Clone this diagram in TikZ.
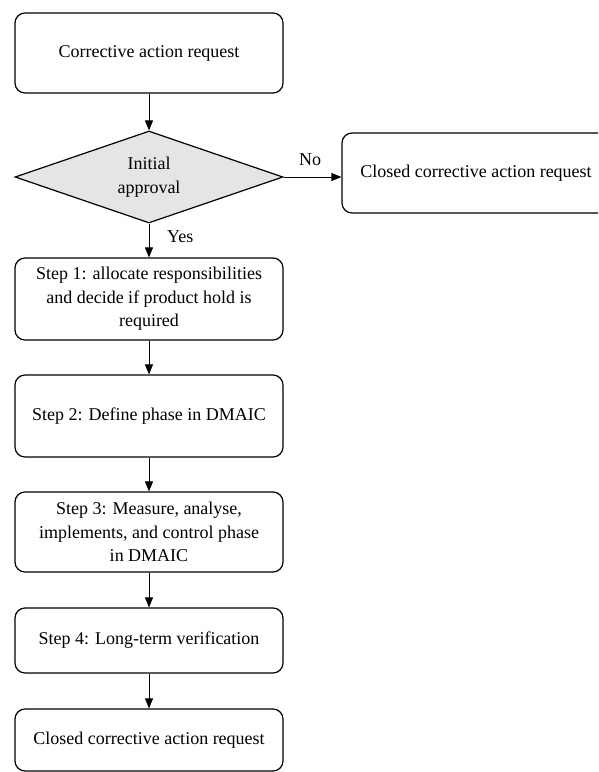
\documentclass[tikz,border=0pt]{standalone}
\usepackage{fontspec}
\setmainfont{Liberation Serif}
\usetikzlibrary{shapes.geometric,arrows.meta}
\begin{document}
\begin{tikzpicture}[x=1pt,y=-1pt,
  every node/.style={font=\fontsize{18}{23.5}\selectfont},
  proc/.style={draw,line width=1.2pt,rounded corners=10pt,minimum width=268pt,align=center,inner sep=0pt},
  decision/.style={draw,line width=1.2pt,diamond,fill=black!10,aspect=2.91,minimum width=268pt,minimum height=92pt,inner sep=0pt,align=center},
  flow/.style={draw,line width=0.9pt,-{Triangle[length=10pt,width=8pt]}},
  lbl/.style={inner sep=0pt}]
\useasboundingbox (0,0) rectangle (598,772);
\clip (0,0) rectangle (598,772);
\node[proc,minimum height=80pt] (req) at (149,53) {Corrective action request};
\node[decision] (appr) at (149,177) {Initial\\approval};
\node[proc,minimum height=80pt] (closedR) at (476,173) {Closed corrective action request};
\node[proc,minimum height=82pt] (s1) at (149,299) {Step 1: allocate responsibilities\\and decide if product hold is\\required};
\node[proc,minimum height=82pt] (s2) at (149,416) {Step 2: Define phase in DMAIC};
\node[proc,minimum height=80pt] (s3) at (149,532) {Step 3: Measure, analyse,\\implements, and control phase\\in DMAIC};
\node[proc,minimum height=65pt] (s4) at (149,640.5) {Step 4: Long-term verification};
\node[proc,minimum height=62pt] (closed) at (149,740) {Closed corrective action request};
\draw[flow] (req) -- (appr);
\draw[flow] (appr.east) -- (appr.east -| closedR.west);
\draw[flow] (appr) -- (s1);
\draw[flow] (s1) -- (s2);
\draw[flow] (s2) -- (s3);
\draw[flow] (s3) -- (s4);
\draw[flow] (s4) -- (closed);
\node[lbl,anchor=west] (no) at (299,160) {No};
\node[lbl,anchor=west] (yes) at (167,237) {Yes};
\end{tikzpicture}
\end{document}
